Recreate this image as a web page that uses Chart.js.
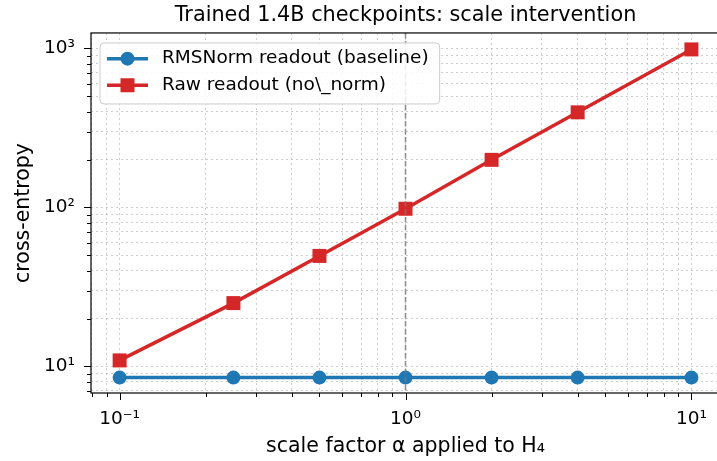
<!DOCTYPE html>
<html>
<head>
<meta charset="utf-8">
<script src="https://cdn.jsdelivr.net/npm/chart.js@4.4.1/dist/chart.umd.min.js"></script>
<style>
  html, body { margin: 0; padding: 0; background: #fff; overflow: hidden; }
  #wrap { width: 717px; height: 461px; overflow: hidden; }
</style>
</head>
<body>
<div id="wrap"><canvas id="grafico" width="740" height="461"></canvas></div>
<script>
// valores
const alphas = [0.1, 0.25, 0.5, 1, 2, 4, 10];
const rmsnormCE = [8.5, 8.5, 8.5, 8.5, 8.5, 8.5, 8.5];
const rawCE = [10.9, 25, 49.5, 98, 199, 396, 985];

const seriesLabels = ['RMSNorm readout (baseline)', 'Raw readout (no\\_norm)'];

// ticks (decadas) e limites dos eixos
const xMajorTicks = [0.1, 1, 10];
const yMajorTicks = [10, 100, 1000];
const xRange = [0.0794, 12.59];
const yRange = [6.8, 1250];

const superDigits = { '-': '⁻', '0': '⁰', '1': '¹', '2': '²', '3': '³', '4': '⁴', '5': '⁵', '6': '⁶', '7': '⁷', '8': '⁸', '9': '⁹' };

function isMajor(v) {
  const l = Math.log10(v);
  return Math.abs(l - Math.round(l)) < 1e-9;
}

function powLabel(v) {
  const e = String(Math.round(Math.log10(v)));
  return '10' + e.split('').map(c => superDigits[c]).join('');
}

// ticks menores 2..9 em cada decada, dentro do intervalo
function logTicks(majors, range) {
  const out = [];
  const first = majors[0] / 10;
  const decades = [first].concat(majors);
  decades.forEach(d => {
    for (let k = 1; k <= 9; k++) {
      const v = Math.round(d * k * 1e6) / 1e6;
      if (v >= range[0] && v <= range[1]) out.push({ value: v });
    }
  });
  return out;
}

Chart.defaults.font.family = "'DejaVu Sans', sans-serif";
Chart.defaults.color = '#000';

const gridOpts = { color: 'rgba(170,170,170,0.65)', lineWidth: 0.9, drawTicks: false };

const extras = {
  id: 'extras',
  afterDatasetsDraw(chart) {
    // linha tracejada em alpha = 1
    const { ctx, chartArea } = chart;
    const px = chart.scales.x.getPixelForValue(1);
    ctx.save();
    ctx.strokeStyle = 'rgba(120,120,120,0.8)';
    ctx.lineWidth = 1.6;
    ctx.setLineDash([5.5, 2.5]);
    ctx.beginPath();
    ctx.moveTo(px, chartArea.top);
    ctx.lineTo(px, chartArea.bottom);
    ctx.stroke();
    ctx.restore();
  },
  afterDraw(chart) {
    const { ctx, chartArea } = chart;
    const { left, right, top, bottom } = chartArea;
    ctx.save();
    // moldura
    ctx.strokeStyle = '#000';
    ctx.lineWidth = 1.2;
    ctx.strokeRect(left, top, right - left, bottom - top);

    // marcas dos ticks
    ctx.lineWidth = 1;
    ctx.beginPath();
    chart.scales.x.ticks.forEach(t => {
      const px = Math.round(chart.scales.x.getPixelForValue(t.value)) + 0.5;
      const len = isMajor(t.value) ? 7 : 4;
      ctx.moveTo(px, bottom);
      ctx.lineTo(px, bottom + len);
    });
    chart.scales.y.ticks.forEach(t => {
      const py = Math.round(chart.scales.y.getPixelForValue(t.value)) + 0.5;
      const len = isMajor(t.value) ? 7 : 4;
      ctx.moveTo(left, py);
      ctx.lineTo(left - len, py);
    });
    ctx.stroke();

    // legenda dentro do grafico
    const bx = left + 9, by = top + 10;
    ctx.font = "18.5px 'DejaVu Sans'";
    const textW = Math.max(...chart.data.datasets.map(d => ctx.measureText(d.label).width));
    const bw = 62 + textW + 11, bh = 61;
    ctx.beginPath();
    ctx.roundRect(bx, by, bw, bh, 4);
    ctx.fillStyle = 'rgba(255,255,255,0.85)';
    ctx.fill();
    ctx.strokeStyle = '#cccccc';
    ctx.lineWidth = 1;
    ctx.stroke();

    chart.data.datasets.forEach((d, i) => {
      const cy = by + 15.7 + i * 26.6;
      ctx.strokeStyle = d.borderColor;
      ctx.lineWidth = 3.5;
      ctx.beginPath();
      ctx.moveTo(bx + 7, cy);
      ctx.lineTo(bx + 48, cy);
      ctx.stroke();
      ctx.fillStyle = d.backgroundColor;
      const mx = bx + 27.5;
      if (d.pointStyle === 'rect') {
        ctx.fillRect(mx - 7, cy - 7, 14, 14);
      } else {
        ctx.beginPath();
        ctx.arc(mx, cy, 7, 0, Math.PI * 2);
        ctx.fill();
      }
      ctx.fillStyle = '#000';
      ctx.textBaseline = 'middle';
      ctx.textAlign = 'left';
      ctx.fillText(d.label, bx + 62, cy);
    });
    ctx.restore();
  }
};

new Chart(document.getElementById('grafico').getContext('2d'), {
  type: 'line',
  data: {
    datasets: [{
      label: seriesLabels[0],
      data: alphas.map((a, i) => ({ x: a, y: rmsnormCE[i] })),
      borderColor: '#1f77b4',
      backgroundColor: '#1f77b4',
      borderWidth: 3.5,
      pointStyle: 'circle',
      pointRadius: 7,
      pointBorderWidth: 0,
      tension: 0
    }, {
      label: seriesLabels[1],
      data: alphas.map((a, i) => ({ x: a, y: rawCE[i] })),
      borderColor: '#d62728',
      backgroundColor: '#d62728',
      borderWidth: 3.5,
      pointStyle: 'rect',
      pointRadius: 9.9,
      pointBorderWidth: 0,
      tension: 0
    }]
  },
  options: {
    responsive: false,
    animation: false,
    devicePixelRatio: 1,
    layout: { padding: { left: 0, right: 20, top: 0, bottom: 0 } },
    plugins: {
      legend: { display: false },
      tooltip: { enabled: false },
      title: {
        display: true,
        text: 'Trained 1.4B checkpoints: scale intervention',
        fullSize: false,
        color: '#000',
        font: { size: 20.8, weight: 'normal' },
        padding: { top: 3, bottom: 5 }
      }
    },
    scales: {
      x: {
        type: 'logarithmic',
        min: xRange[0],
        max: xRange[1],
        grid: gridOpts,
        border: { display: false, dash: [2, 3] },
        afterBuildTicks: scale => { scale.ticks = logTicks(xMajorTicks, xRange); },
        afterFit: scale => { scale.height = 68; },
        ticks: {
          autoSkip: false,
          maxRotation: 0,
          padding: 15,
          font: { size: 18.5 },
          callback: v => isMajor(v) ? powLabel(v) : ''
        },
        title: {
          display: true,
          text: 'scale factor α applied to H₄',
          font: { size: 20.5 },
          padding: { top: 0, bottom: 2 }
        }
      },
      y: {
        type: 'logarithmic',
        min: yRange[0],
        max: yRange[1],
        grid: gridOpts,
        border: { display: false, dash: [2, 3] },
        afterBuildTicks: scale => { scale.ticks = logTicks(yMajorTicks, yRange); },
        afterFit: scale => { scale.width = 91; },
        ticks: {
          autoSkip: false,
          padding: 16,
          font: { size: 18.5 },
          callback: v => isMajor(v) ? powLabel(v) : ''
        },
        title: {
          display: true,
          text: 'cross-entropy',
          font: { size: 20.5 },
          padding: { top: 11, bottom: 0 }
        }
      }
    }
  },
  plugins: [extras]
});
</script>
</body>
</html>
